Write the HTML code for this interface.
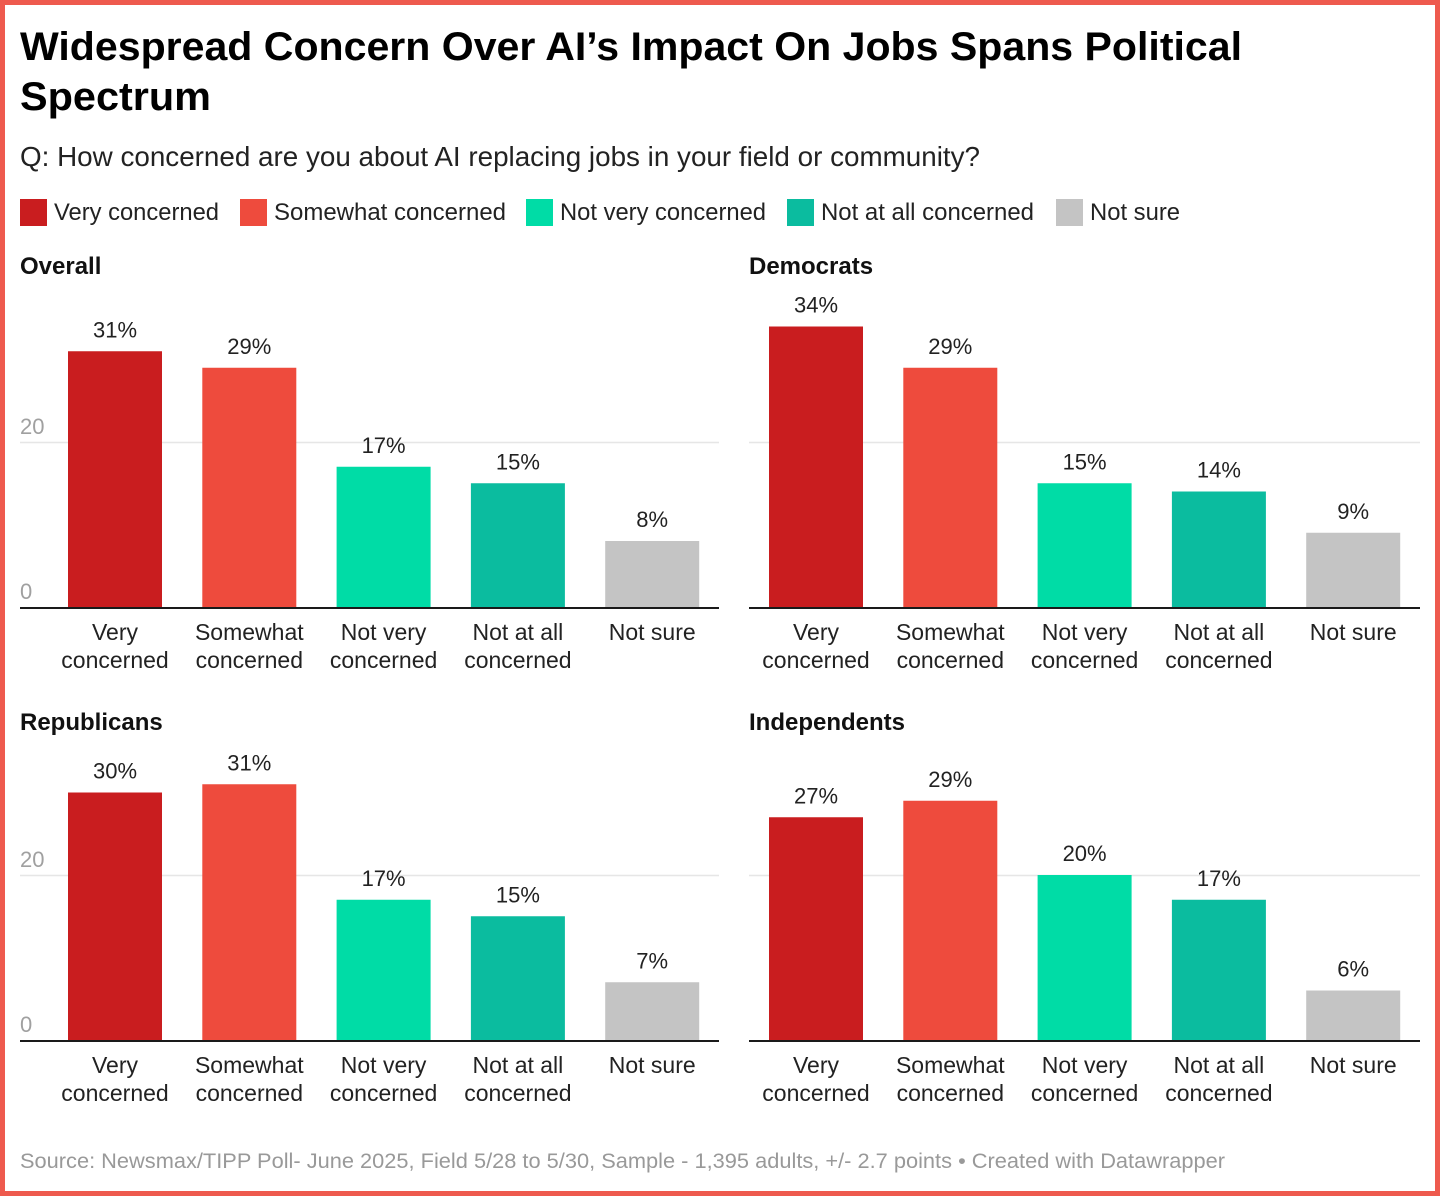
<!DOCTYPE html>
<html><head><meta charset="utf-8"><style>
body{margin:0;background:#fff;}
svg{display:block;font-family:"Liberation Sans",sans-serif;}
</style></head><body>
<svg id="chart" width="1440" height="1196" xmlns="http://www.w3.org/2000/svg">
<rect x="2.5" y="2.5" width="1435" height="1191" fill="#fff" stroke="#ee5a4e" stroke-width="5"/>
<text x="20" y="60" font-size="40" font-weight="bold" fill="#000" textLength="1222" lengthAdjust="spacingAndGlyphs">Widespread Concern Over AI’s Impact On Jobs Spans Political</text>
<text x="20" y="110" font-size="40" font-weight="bold" fill="#000" textLength="191" lengthAdjust="spacingAndGlyphs">Spectrum</text>
<text x="20" y="166" font-size="27.5" fill="#222" textLength="960" lengthAdjust="spacingAndGlyphs">Q: How concerned are you about AI replacing jobs in your field or community?</text>
<g id="legend"></g>
<g id="panels"></g>
<text x="20" y="1168" font-size="21.5" fill="#999" textLength="1205" lengthAdjust="spacingAndGlyphs">Source: Newsmax/TIPP Poll- June 2025, Field 5/28 to 5/30, Sample - 1,395 adults, +/- 2.7 points • Created with Datawrapper</text>
</svg>
<script>
const categories = ["Very concerned","Somewhat concerned","Not very concerned","Not at all concerned","Not sure"];
const catLines = [["Very","concerned"],["Somewhat","concerned"],["Not very","concerned"],["Not at all","concerned"],["Not sure"]];
const colors = ["#c91d1f","#ee4b3d","#00dca6","#0bbc9f","#c4c4c4"];
const panelNames = ["Overall","Democrats","Republicans","Independents"];
const overallValues = [31,29,17,15,8];
const democratValues = [34,29,15,14,9];
const republicanValues = [30,31,17,15,7];
const independentValues = [27,29,20,17,6];
const tickValues = [0,20];
const seriesAll = [overallValues, democratValues, republicanValues, independentValues];

const NS = "http://www.w3.org/2000/svg";
function mk(tag, attrs, parent){const e=document.createElementNS(NS,tag);for(const k in attrs)e.setAttribute(k,attrs[k]);parent.appendChild(e);return e;}

const legend = document.getElementById('legend');
const legendX = [20,240,526,787,1056];
const legendW = [165,232,206,213,90];
categories.forEach((c,i)=>{
  const g = mk('g',{},legend);
  
  
  mk('rect',{x:legendX[i],y:199,width:27,height:27,fill:colors[i]},g);
  const t = mk('text',{x:legendX[i]+34,y:220,'font-size':24,fill:'#222',textLength:legendW[i],lengthAdjust:'spacingAndGlyphs'},g);
  t.textContent = c;
});

const panels = document.getElementById('panels');
const layout = [{x0:20,bx:48,titleY:274,base:607},{x0:749,bx:749,titleY:274,base:607},{x0:20,bx:48,titleY:730,base:1040},{x0:749,bx:749,titleY:730,base:1040}];
const pxPerUnit = 165/20;
const band = 134.3, barW = 94, barOff = 20;
seriesAll.forEach((vals,p)=>{
  const L = layout[p];
  const g = mk('g',{},panels);
  
  
  const y = v => L.base - v*pxPerUnit;
  const xb = i => L.bx + i*band + barOff;
  const tt = mk('text',{x:L.x0,y:L.titleY,'font-size':24,'font-weight':'bold',fill:'#111'},g);
  
  
  tt.textContent = panelNames[p];
  tickValues.forEach(t=>{
    if(t>0){
      const gl = mk('line',{x1:L.x0,x2:1420-(p%2?0:701),y1:y(t)+0.5,y2:y(t)+0.5,stroke:'#e6e6e6','stroke-width':1.5},g);
      
      
    }
    if(p%2===0){
      const tl = mk('text',{x:20,y:y(t)-8,'font-size':22,fill:'#a0a0a0'},g);
      
      
      tl.textContent = t;
    }
  });
  vals.forEach((v,i)=>{
    const r = mk('rect',{x:xb(i),y:y(v),width:barW,height:v*pxPerUnit,fill:colors[i]},g);
    
    
    const vl = mk('text',{x:xb(i)+barW/2,y:y(v)-14,'font-size':22,'text-anchor':'middle',fill:'#222'},g);
    
    
    vl.textContent = v+'%';
    catLines[i].forEach((ln,k)=>{
      const cl = mk('text',{x:xb(i)+barW/2,y:L.base+33+k*28,'font-size':23,'text-anchor':'middle',fill:'#222'},g);
      
      
      cl.textContent = ln;
    });
  });
  const ax = mk('line',{x1:L.x0,x2:(p%2?1420:719),y1:L.base+1,y2:L.base+1,stroke:'#1a1a1a','stroke-width':2},g);
  
  
});
</script>
</body></html>
